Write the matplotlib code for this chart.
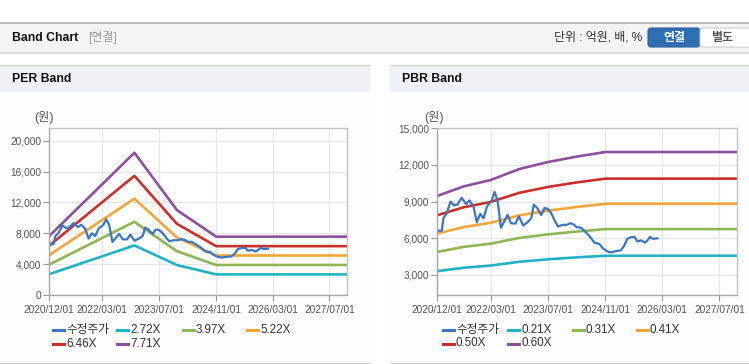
import matplotlib
matplotlib.use('Agg')
import matplotlib.pyplot as plt
import matplotlib.dates as mdates
import matplotlib.transforms as mtransforms
from matplotlib.patches import Rectangle, FancyBboxPatch
from matplotlib.lines import Line2D
import pandas as pd

plt.rcParams['font.family'] = ['Liberation Sans', 'Noto Sans CJK KR', 'DejaVu Sans']

W, H = 749, 364

# 수정주가 (same series in both panels)
price_dates = ['2020-12-01', '2021-01-08', '2021-01-22', '2021-02-19', '2021-03-24', '2021-04-22',
               '2021-05-20', '2021-06-27', '2021-08-03', '2021-09-01', '2021-10-05', '2021-11-03',
               '2021-12-01', '2021-12-30', '2022-01-28', '2022-03-10', '2022-04-03', '2022-04-28',
               '2022-05-27', '2022-06-25', '2022-07-23', '2022-08-21', '2022-09-28', '2022-10-26',
               '2022-12-03', '2023-01-07', '2023-02-10', '2023-03-03', '2023-04-01', '2023-05-05',
               '2023-06-03', '2023-07-02', '2023-07-30', '2023-08-28', '2023-09-26', '2023-11-03',
               '2023-12-10', '2024-01-08', '2024-02-06', '2024-03-04', '2024-04-08', '2024-05-06',
               '2024-06-19', '2024-08-01', '2024-09-13', '2024-10-11', '2024-11-24', '2024-12-22',
               '2025-02-04', '2025-03-11', '2025-04-09', '2025-05-07', '2025-06-11', '2025-07-09',
               '2025-08-01', '2025-09-05', '2025-10-04', '2025-10-27', '2025-11-16', '2025-12-15',
               '2026-01-20']
price_vals = [6620, 6620, 7640, 8050, 9000, 8700,
              8750, 9320, 8800, 9100, 8600, 7310,
              8000, 7640, 8600, 9100, 9790, 9100,
              6870, 7400, 7920, 7230, 7200, 7800,
              7040, 7300, 7640, 8750, 8480, 7900,
              8480, 8400, 8050, 7450, 6960, 7100,
              7100, 7240, 7130, 6900, 6870, 6620,
              6180, 5640, 5530, 5180, 4900, 4850,
              4960, 5000, 5350, 5950, 6100, 6100,
              5750, 5830, 5640, 5830, 6100, 5950,
              6000]

# PER band
per_dates = ['2020-12-01', '2022-12-01', '2023-12-01', '2024-11-01', '2027-12-01']
per_272 = [2700, 6420, 3880, 2670, 2670]
per_397 = [3940, 9490, 5670, 3890, 3890]
per_522 = [5180, 12480, 7450, 5120, 5120]
per_646 = [6410, 15440, 9220, 6330, 6330]
per_771 = [7650, 18430, 11000, 7560, 7560]
per_labels = ['2.72X', '3.97X', '5.22X', '6.46X', '7.71X']

# PBR band
pbr_dates = ['2020-12-01', '2021-07-15', '2022-03-01', '2022-11-01', '2023-07-01',
             '2024-03-01', '2024-11-01', '2027-12-01']
pbr_021 = [3310, 3590, 3770, 4080, 4280, 4440, 4570, 4570]
pbr_031 = [4890, 5300, 5560, 6030, 6320, 6550, 6750, 6750]
pbr_041 = [6390, 6920, 7270, 7880, 8260, 8560, 8820, 8820]
pbr_050 = [7890, 8540, 8975, 9725, 10200, 10570, 10880, 10880]
pbr_060 = [9470, 10250, 10770, 11670, 12240, 12680, 13060, 13060]
pbr_labels = ['0.21X', '0.31X', '0.41X', '0.50X', '0.60X']

x_ticks = ['2020-12-01', '2022-03-01', '2023-07-01', '2024-11-01', '2026-03-01', '2027-07-01']

price_color = '#3a76c3'
band_colors = ['#22b2c4', '#8db654', '#f2a53a', '#c9302c', '#8e4f9c']

fig = plt.figure(figsize=(W / 100, H / 100), dpi=100)
# pixel coordinates, y downward
T = mtransforms.Affine2D().scale(1 / W, -1 / H).translate(0, 1) + fig.transFigure


def rect(x, y, w, h, fc, ec='none', lw=0):
    fig.add_artist(Rectangle((x, y), w, h, transform=T, facecolor=fc, edgecolor=ec,
                             linewidth=lw, zorder=-10))


def hline(x0, x1, y, color, lw=1.0):
    fig.add_artist(Line2D([x0, x1], [y, y], transform=T, color=color, linewidth=lw, zorder=-5))


def text(x, y, s, **kw):
    fig.text(x, y, s, transform=T, **kw)


# top header bar
hline(0, W, 22.5, '#b3b3b3', 1.3)
rect(0, 23, W, 29, '#f4f4f4')
hline(0, W, 52.5, '#d9d9d9', 1.5)
text(12, 38, 'Band Chart', fontsize=8.8, fontweight='bold', color='#111', va='center')
text(88, 38, '[연결]', fontsize=8.6, color='#999', va='center')
text(642, 38, '단위 : 억원, 배, %', fontsize=8.6, color='#333', va='center', ha='right')
fig.add_artist(FancyBboxPatch((648, 28), 52, 19, boxstyle='round,pad=0,rounding_size=3',
                              transform=T, facecolor='#2f6eb1', edgecolor='#2a62a0', linewidth=0.8))
fig.add_artist(FancyBboxPatch((700, 28), 52, 19, boxstyle='round,pad=0,rounding_size=3',
                              transform=T, facecolor='white', edgecolor='#cccccc', linewidth=0.8))
text(674, 37.5, '연결', fontsize=8.6, fontweight='bold', color='white', va='center', ha='center')
text(722, 37.5, '별도', fontsize=8.6, fontweight='bold', color='#555', va='center', ha='center')

# panel frames
for px0, px1, title in [(0, 370, 'PER Band'), (390, W, 'PBR Band')]:
    hline(px0, px1, 64.5, '#d0d0d0', 1.0)
    rect(px0, 65, px1 - px0, 27, '#eef1f6')
    rect(px0, 92, px1 - px0, 271, '#fdfdfd')
    hline(px0, px1, 363, '#d0d0d0', 1.0)
    text(px0 + 12, 79, title, fontsize=8.8, fontweight='bold', color='#111', va='center')


def make_axes(x0, x1, y0, y1):
    return fig.add_axes([x0 / W, 1 - y1 / H, (x1 - x0) / W, (y1 - y0) / H])


def style_axes(ax, yticks, ylim):
    ax.set_facecolor('white')
    ax.set_xlim(pd.Timestamp('2020-12-01'), pd.Timestamp('2027-12-01'))
    ax.set_ylim(*ylim)
    ax.set_yticks(yticks)
    ax.set_yticklabels([f'{v:,}' for v in yticks])
    ax.set_xticks(pd.to_datetime(x_ticks))
    ax.xaxis.set_major_formatter(mdates.DateFormatter('%Y/%m/%d'))
    ax.grid(True, color='#e6e6e6', linewidth=0.8)
    ax.set_axisbelow(True)
    for s in ax.spines.values():
        s.set_color('#c4c4c4')
        s.set_linewidth(1.0)
    ax.spines['left'].set_color('#a8a8a8')
    ax.spines['bottom'].set_color('#a8a8a8')
    ax.tick_params(axis='both', colors='#999', length=4, width=0.8, labelsize=7.3,
                   labelcolor='#555', pad=2)
    ax.tick_params(axis='x', pad=3)


def legend(x_items, y_rows, labels, colors):
    for (x, y), lab, c in zip([(x_items[i % 4], y_rows[i // 4]) for i in range(len(labels))], labels, colors):
        fig.add_artist(Line2D([x, x + 11], [y, y], transform=T, color=c, linewidth=2.2))
        text(x + 13, y, lab, fontsize=8.4, color='#333', va='center')


# PER panel
ax1 = make_axes(49.3, 347.3, 128.3, 295)
pd_per = pd.to_datetime(per_dates)
for vals, c in zip([per_272, per_397, per_522, per_646, per_771], band_colors):
    ax1.plot(pd_per, vals, color=c, linewidth=1.9, solid_joinstyle='round')
ax1.plot(pd.to_datetime(price_dates), price_vals, color=price_color, linewidth=1.6, solid_joinstyle='round')
style_axes(ax1, list(range(0, 20001, 4000)), (0, 21600))
text(44, 118, '(원)', fontsize=8.8, color='#555', va='center', ha='center')
legend([53, 117, 183, 247], [330, 344], ['수정주가'] + per_labels, [price_color] + band_colors)

# PBR panel
ax2 = make_axes(437.3, 737.3, 128.3, 295)
pd_pbr = pd.to_datetime(pbr_dates)
for vals, c in zip([pbr_021, pbr_031, pbr_041, pbr_050, pbr_060], band_colors):
    ax2.plot(pd_pbr, vals, color=c, linewidth=1.9, solid_joinstyle='round')
ax2.plot(pd.to_datetime(price_dates), price_vals, color=price_color, linewidth=1.6, solid_joinstyle='round')
style_axes(ax2, list(range(3000, 15001, 3000)), (1360, 15000))
text(434, 117, '(원)', fontsize=8.8, color='#555', va='center', ha='center')
legend([443, 508, 573, 637], [330, 343.5], ['수정주가'] + pbr_labels, [price_color] + band_colors)

fig.savefig('out.png', dpi=100)
